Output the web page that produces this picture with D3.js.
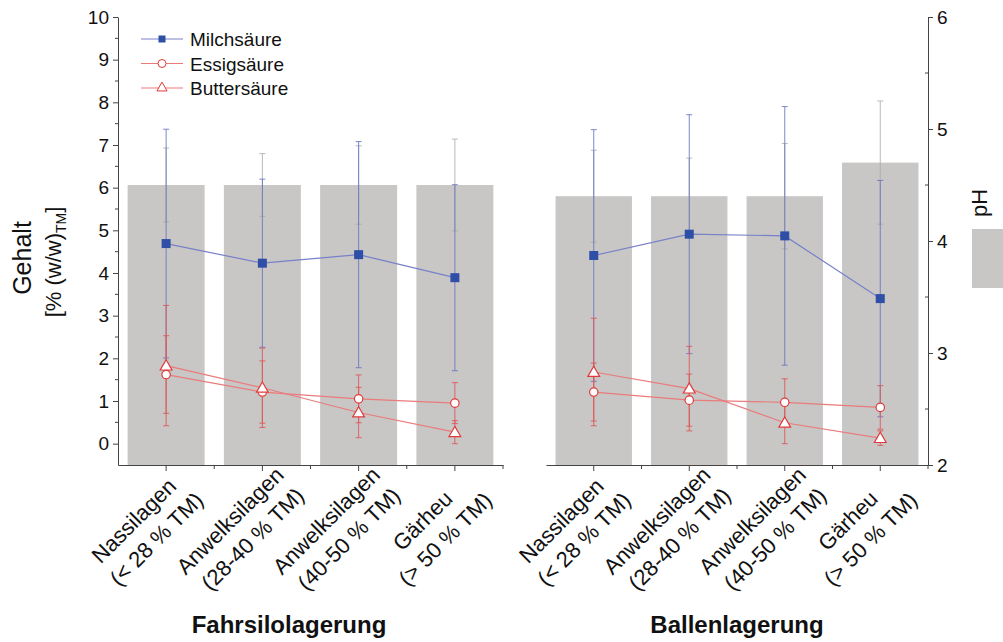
<!DOCTYPE html>
<html>
<head>
<meta charset="utf-8">
<script src="https://cdn.jsdelivr.net/npm/d3@7"></script>
<style>
  body { margin: 0; background: #fff; }
  svg { font-family: "Liberation Sans", Arial, sans-serif; }
</style>
</head>
<body>
<div id="chart"></div>
<script>
// Kategorien
const categories = ["Nassilagen|(< 28 % TM)", "Anwelksilagen|(28-40 % TM)", "Anwelksilagen|(40-50 % TM)", "Gärheu|(> 50 % TM)"];
const groups = ["Fahrsilolagerung", "Ballenlagerung"];

// pH (Balken, rechte Achse)
const phFahr = [4.5, 4.5, 4.5, 4.5];
const phFahrSd = [0.33, 0.28, 0.35, 0.41];
const phBallen = [4.4, 4.4, 4.4, 4.7];
const phBallenSd = [0.41, 0.34, 0.47, 0.55];

// Säuren (linke Achse)
const milchFahr = [4.69, 4.23, 4.43, 3.89];
const milchFahrSd = [2.68, 1.97, 2.65, 2.18];
const milchBallen = [4.41, 4.91, 4.87, 3.40];
const milchBallenSd = [2.95, 2.80, 3.03, 2.77];

const essigFahr = [1.62, 1.21, 1.05, 0.95];
const essigFahrSd = [0.91, 0.73, 0.56, 0.48];
const essigBallen = [1.21, 1.02, 0.97, 0.85];
const essigBallenSd = [0.68, 0.61, 0.55, 0.51];

const butterFahr = [1.83, 1.31, 0.73, 0.27];
const butterFahrSd = [1.41, 0.93, 0.59, 0.27];
const butterBallen = [1.68, 1.29, 0.49, 0.13];
const butterBallenSd = [1.26, 0.99, 0.49, 0.17];

const leftTicks = [0, 1, 2, 3, 4, 5, 6, 7, 8, 9, 10];
const rightTicks = [2, 3, 4, 5, 6];

const W = 1003, H = 642;
const plotTop = 17, plotBottom = 465;
const FONT = "Liberation Sans, Arial, sans-serif";

const svg = d3.select("#chart").append("svg")
    .attr("width", W).attr("height", H);

const yL = d3.scaleLinear().domain([-0.5, 10]).range([plotBottom, plotTop]);
const yR = d3.scaleLinear().domain([2, 6]).range([plotBottom, plotTop]);

const panels = [
    { range: [118, 503], ph: phFahr, phSd: phFahrSd, milch: milchFahr, milchSd: milchFahrSd,
      essig: essigFahr, essigSd: essigFahrSd, butter: butterFahr, butterSd: butterFahrSd, title: groups[0], titleX: 289 },
    { range: [546, 928], ph: phBallen, phSd: phBallenSd, milch: milchBallen, milchSd: milchBallenSd,
      essig: essigBallen, essigSd: essigBallenSd, butter: butterBallen, butterSd: butterBallenSd, title: groups[1], titleX: 737 }
];

const blueLine = "#7880c8", blueMark = "#2f4ea6", blueErr = "#6a73c0";
const redLine = "#ea7b7b", redMark = "#e03a3a", redErr = "#dd5a5a";
const barFill = "#c8c7c6", greyErr = "#a9a9a9";

function errBars(g, x, vals, sds, yScale, color, cap, opacity) {
    const d = vals.map((v, i) => ({ c: categories[i], v, s: sds[i] }));
    const e = g.append("g").attr("stroke", color).attr("stroke-width", 1).attr("opacity", opacity);
    const cx = d => x(d.c) + x.bandwidth() / 2;
    e.selectAll(".v").data(d).join("line")
        .attr("x1", cx).attr("x2", cx)
        .attr("y1", d => yScale(d.v - d.s)).attr("y2", d => yScale(d.v + d.s));
    e.selectAll(".t").data(d).join("line")
        .attr("x1", d => cx(d) - cap).attr("x2", d => cx(d) + cap)
        .attr("y1", d => yScale(d.v + d.s)).attr("y2", d => yScale(d.v + d.s));
    e.selectAll(".b").data(d).join("line")
        .attr("x1", d => cx(d) - cap).attr("x2", d => cx(d) + cap)
        .attr("y1", d => yScale(d.v - d.s)).attr("y2", d => yScale(d.v - d.s));
}

const tri = d3.symbol().type(d3.symbolTriangle).size(60);

panels.forEach((p, pi) => {
    const x = d3.scaleBand().domain(categories).range(p.range).paddingInner(0.2).paddingOuter(0.1);
    const cx = c => x(c) + x.bandwidth() / 2;
    const g = svg.append("g");

    // Balken pH
    g.selectAll("rect").data(p.ph).join("rect")
        .attr("x", (d, i) => x(categories[i]))
        .attr("width", x.bandwidth())
        .attr("y", d => yR(d))
        .attr("height", d => yR(2) - yR(d))
        .attr("fill", barFill);

    errBars(g, x, p.ph, p.phSd, yR, greyErr, 3, 0.8);
    errBars(g, x, p.milch, p.milchSd, yL, blueErr, 3, 0.85);
    errBars(g, x, p.essig, p.essigSd, yL, redErr, 3, 0.9);
    errBars(g, x, p.butter, p.butterSd, yL, redErr, 3, 0.9);

    const line = d3.line().x((d, i) => cx(categories[i])).y(d => yL(d));
    g.append("path").datum(p.milch).attr("fill", "none").attr("stroke", blueLine).attr("stroke-width", 1.2).attr("d", line);
    g.append("path").datum(p.essig).attr("fill", "none").attr("stroke", redLine).attr("stroke-width", 1.2).attr("d", line);
    g.append("path").datum(p.butter).attr("fill", "none").attr("stroke", redLine).attr("stroke-width", 1.2).attr("d", line);

    g.selectAll(".sq").data(p.milch).join("rect")
        .attr("x", (d, i) => cx(categories[i]) - 4.5).attr("y", d => yL(d) - 4.5)
        .attr("width", 9).attr("height", 9).attr("fill", blueMark);
    g.selectAll(".ci").data(p.essig).join("circle")
        .attr("cx", (d, i) => cx(categories[i])).attr("cy", d => yL(d)).attr("r", 4.2)
        .attr("fill", "#fff").attr("stroke", redMark).attr("stroke-width", 1.2);
    g.selectAll(".tr").data(p.butter).join("path")
        .attr("d", tri)
        .attr("transform", (d, i) => `translate(${cx(categories[i])},${yL(d) + 1})`)
        .attr("fill", "#fff").attr("stroke", redMark).attr("stroke-width", 1.2);

    // x-Achse
    const xa = svg.append("g").attr("transform", `translate(0,${plotBottom})`)
        .call(d3.axisBottom(x).tickSize(6).tickSizeOuter(0).tickFormat(""));
    xa.select(".domain").attr("stroke", "#444");
    xa.selectAll(".tick line").attr("stroke", "#444");
    const step = x.step();
    xa.selectAll(".minor").data(categories).join("line")
        .attr("x1", c => cx(c) + step / 2).attr("x2", c => cx(c) + step / 2)
        .attr("y1", 0).attr("y2", 4).attr("stroke", "#444");

    // Kategorie-Beschriftung
    categories.forEach(c => {
        const parts = c.split("|");
        const t = svg.append("text")
            .attr("transform", `translate(${cx(c) - 27},526) rotate(-45)`)
            .attr("text-anchor", "middle").attr("font-size", 22).attr("fill", "#111");
        t.append("tspan").attr("x", 0).attr("y", 0).text(parts[0]);
        t.append("tspan").attr("x", 3).attr("y", 29).text(parts[1]);
    });

    svg.append("text").attr("x", p.titleX).attr("y", 633)
        .attr("text-anchor", "middle").attr("font-size", 24).attr("font-weight", "bold")
        .attr("fill", "#111").text(p.title);
});

// linke Achse
const la = svg.append("g").attr("transform", "translate(118,0)")
    .call(d3.axisLeft(yL).tickValues(leftTicks).tickSize(5).tickSizeOuter(0).tickPadding(4));
la.select(".domain").attr("stroke", "#444");
la.selectAll(".tick line").attr("stroke", "#444");
la.selectAll("text").attr("font-size", 19).attr("fill", "#111").attr("font-family", FONT);
la.selectAll(".minor").data(leftTicks.slice(0, -1)).join("line")
    .attr("x1", 0).attr("x2", -3).attr("y1", d => yL(d + 0.5)).attr("y2", d => yL(d + 0.5)).attr("stroke", "#444");

// rechte Achse
const ra = svg.append("g").attr("transform", "translate(928,0)")
    .call(d3.axisRight(yR).tickValues(rightTicks).tickFormat(d3.format("d")).tickSize(5).tickSizeOuter(0).tickPadding(4));
ra.select(".domain").attr("stroke", "#444");
ra.selectAll(".tick line").attr("stroke", "#444");
ra.selectAll("text").attr("font-size", 19).attr("fill", "#111").attr("font-family", FONT);
ra.selectAll(".minor").data(rightTicks.slice(0, -1)).join("line")
    .attr("x1", 0).attr("x2", -3).attr("y1", d => yR(d + 0.5)).attr("y2", d => yR(d + 0.5)).attr("stroke", "#444");

// Achsentitel links
svg.append("text").attr("transform", "translate(31,258) rotate(-90)")
    .attr("text-anchor", "middle").attr("font-size", 25).attr("fill", "#111").text("Gehalt");
const yt2 = svg.append("text").attr("transform", "translate(61,262) rotate(-90)")
    .attr("text-anchor", "middle").attr("font-size", 22).attr("fill", "#111");
yt2.append("tspan").text("[% (w/w)");
yt2.append("tspan").attr("font-size", 14).attr("dy", 5).text("TM");
yt2.append("tspan").attr("dy", -5).text("]");

// pH-Legende rechts
svg.append("text").attr("transform", "translate(987,203) rotate(-90)")
    .attr("text-anchor", "middle").attr("font-size", 22).attr("fill", "#111").text("pH");
svg.append("rect").attr("x", 972).attr("y", 229).attr("width", 40).attr("height", 59).attr("fill", barFill);

// Legende
const legend = [
    { name: "Milchsäure", color: blueLine, mark: "sq" },
    { name: "Essigsäure", color: redLine, mark: "ci" },
    { name: "Buttersäure", color: redLine, mark: "tr" }
];
const lg = svg.append("g");
legend.forEach((l, i) => {
    const yy = 39 + i * 24.5;
    lg.append("line").attr("x1", 141).attr("x2", 183).attr("y1", yy).attr("y2", yy)
        .attr("stroke", l.color).attr("stroke-width", 1.2);
    if (l.mark === "sq") lg.append("rect").attr("x", 158.5).attr("y", yy - 3.5).attr("width", 7).attr("height", 7).attr("fill", blueMark);
    if (l.mark === "ci") lg.append("circle").attr("cx", 162).attr("cy", yy).attr("r", 4).attr("fill", "#fff").attr("stroke", redMark);
    if (l.mark === "tr") lg.append("path").attr("d", d3.symbol().type(d3.symbolTriangle).size(45))
        .attr("transform", `translate(162,${yy})`).attr("fill", "#fff").attr("stroke", redMark);
    lg.append("text").attr("x", 190).attr("y", yy + 7).attr("font-size", 19).attr("fill", "#111").text(l.name);
});
</script>
</body>
</html>
